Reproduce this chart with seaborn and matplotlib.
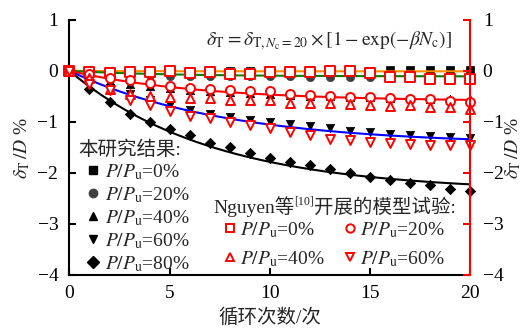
import numpy as np
import pandas as pd
import seaborn as sns
import matplotlib.pyplot as plt
from matplotlib.lines import Line2D

cycles = list(range(21))

# this study (black filled markers), delta_T / D in %
ours_0 = [0, -0.02, -0.03, -0.03, -0.02, -0.02, -0.02, -0.01, -0.01, -0.01, -0.01,
          0, 0, 0, 0, 0, 0.01, 0.01, 0.01, 0.01, 0.01]
ours_20 = [0, -0.05, -0.07, -0.08, -0.09, -0.10, -0.10, -0.10, -0.11, -0.11, -0.11,
           -0.11, -0.12, -0.12, -0.12, -0.12, -0.12, -0.12, -0.13, -0.13, -0.13]
ours_40 = [0, -0.12, -0.19, -0.25, -0.30, -0.34, -0.37, -0.40, -0.42, -0.44, -0.46,
           -0.47, -0.49, -0.50, -0.51, -0.52, -0.53, -0.54, -0.55, -0.55, -0.56]
ours_60 = [0, -0.20, -0.33, -0.45, -0.57, -0.67, -0.76, -0.84, -0.91, -0.96, -1.00,
           -1.05, -1.09, -1.13, -1.17, -1.20, -1.23, -1.26, -1.28, -1.30, -1.32]
ours_80 = [0, -0.35, -0.61, -0.84, -1.00, -1.14, -1.26, -1.41, -1.50, -1.61, -1.70,
           -1.78, -1.85, -1.93, -2.00, -2.08, -2.14, -2.19, -2.24, -2.31, -2.36]

# Nguyen et al. model tests (red hollow markers)
ng_0 = [0, -0.02, -0.05, -0.03, -0.02, -0.01, -0.05, -0.03, -0.07, -0.07, -0.02,
        -0.02, -0.02, 0, -0.01, -0.04, -0.12, -0.13, -0.17, -0.17, -0.17]
ng_20 = [0, -0.06, -0.14, -0.18, -0.23, -0.29, -0.33, -0.35, -0.38, -0.39, -0.40,
         -0.46, -0.48, -0.49, -0.51, -0.52, -0.54, -0.55, -0.55, -0.59, -0.61]
ng_40 = [0, -0.15, -0.35, -0.46, -0.49, -0.51, -0.53, -0.54, -0.57, -0.57, -0.57,
         -0.63, -0.63, -0.64, -0.66, -0.67, -0.69, -0.67, -0.71, -0.71, -0.74]
ng_60 = [0, -0.25, -0.38, -0.57, -0.67, -0.79, -0.88, -0.93, -1.00, -1.06, -1.13,
         -1.20, -1.26, -1.33, -1.36, -1.39, -1.41, -1.44, -1.46, -1.46, -1.46]

load_labels = ["0%", "20%", "40%", "60%", "80%"]

# fitted curves: dT = dT,20 * [1 - exp(-beta * Nc)]
fit_amp = [-0.01, -0.11, -0.60, -1.45, -2.37]
fit_beta = [0.30, 0.20, 0.15, 0.13, 0.14]
fit_colors = ["#ff8c00", "#008000", "#ff0000", "#0000ff", "#000000"]

sns.set_theme(style="ticks")
plt.rcParams['font.family'] = ['Liberation Serif', 'Noto Sans CJK SC']
plt.rcParams['mathtext.fontset'] = 'stix'
plt.rcParams['axes.unicode_minus'] = True
FS = 14

fig = plt.figure(figsize=(5.26, 3.36), dpi=100)
ax = fig.add_axes([0.132, 0.182, 0.762, 0.759])

ours = [ours_0, ours_20, ours_40, ours_60, ours_80]
ours_markers = ["s", "o", "^", "v", "D"]
ours_colors = ["black", "#404040", "black", "black", "black"]
ours_sizes = [32, 36, 36, 36, 28]
for vals, m, c, s in zip(ours, ours_markers, ours_colors, ours_sizes):
    sns.scatterplot(x=cycles, y=vals, marker=m, color=c, s=s, edgecolor=c,
                    linewidth=0.5, ax=ax, zorder=2, clip_on=False, legend=False)

nc = np.linspace(0, 20, 201)
for a, b, c in zip(fit_amp, fit_beta, fit_colors):
    sns.lineplot(x=nc, y=a * (1 - np.exp(-b * nc)), color=c, lw=1.5, ax=ax,
                 zorder=3, legend=False)

ng = [ng_0, ng_20, ng_40, ng_60]
ng_markers = ["s", "o", "^", "v"]
for vals, m in zip(ng, ng_markers):
    sns.scatterplot(x=cycles, y=vals, marker=m, s=42, facecolor="white",
                    edgecolor="red", linewidth=1.4, ax=ax, zorder=4,
                    clip_on=False, legend=False)

ax.set_xlim(0, 20)
ax.set_ylim(-4, 1)
ax.set_xticks([0, 5, 10, 15, 20])
ax.set_yticks([-4, -3, -2, -1, 0, 1])
ax.spines['top'].set_visible(False)
ax.spines['right'].set_visible(False)
for s in ['left', 'bottom']:
    ax.spines[s].set_color('black')
    ax.spines[s].set_linewidth(1.5)
ax.tick_params(direction='in', length=5, width=1.5, labelsize=FS, colors='black')
ax.tick_params(axis='y', pad=8)
ax.tick_params(axis='x', pad=7)
ax.set_xlabel("循环次数/次", fontsize=FS, labelpad=5)
ax.set_ylabel(r"$\delta_{\mathrm{T}}\,/D$ %", fontsize=FS, labelpad=4)

ax2 = ax.twinx()
ax2.set_ylim(-4, 1)
ax2.set_yticks([-4, -3, -2, -1, 0, 1])
for s in ['top', 'left', 'bottom']:
    ax2.spines[s].set_visible(False)
ax2.spines['right'].set_color('red')
ax2.spines['right'].set_linewidth(1.5)
ax2.tick_params(axis='y', direction='in', length=5, width=1.5, colors='red',
                labelcolor='black', labelsize=FS, pad=9)
ax2.set_ylabel(r"$\delta_{\mathrm{T}}\,/D$ %", fontsize=FS, labelpad=0)

ax.text(0.955, 0.92,
        r"$\delta_{\mathrm{T}}=\delta_{\mathrm{T},N_{\mathrm{c}}=20}\times[1-\exp(-\beta N_{\mathrm{c}})]$",
        transform=ax.transAxes, ha='right', va='center', fontsize=FS)

def lab(p):
    return r"$P/P_{\mathrm{u}}$=" + p

# legend for this study
ax.text(0.021, 0.489, "本研究结果:", transform=ax.transAxes, ha='left',
        va='center', fontsize=FS)
h1 = [Line2D([], [], ls='none', marker=m, color=c, markersize=6)
      for m, c in zip(ours_markers, ours_colors)]
leg1 = ax.legend(h1, [lab(p) for p in load_labels],
                 loc='upper left', bbox_to_anchor=(0.039, 0.443), frameon=False,
                 fontsize=FS, borderpad=0, borderaxespad=0, handlelength=0.8,
                 handletextpad=0.2, labelspacing=0.17)
ax.add_artist(leg1)

# legend for Nguyen et al.
t1 = ax.text(0.358, 0.269, "Nguyen等", transform=ax.transAxes, ha='left',
             va='center', fontsize=FS)
t2 = ax.annotate("[10]", xy=(1, 1.0), xycoords=t1, ha='left', va='top',
                 fontsize=FS * 0.62)
ax.annotate("开展的模型试验:", xy=(1, 0), xycoords=(t2, t1), ha='left',
            va='bottom', fontsize=FS)

order = [0, 2, 1, 3]
h2 = [Line2D([], [], ls='none', marker=ng_markers[i], markerfacecolor='white',
             markeredgecolor='red', markeredgewidth=1.4, markersize=6) for i in order]
leg2 = ax.legend(h2, [lab(load_labels[i]) for i in order], ncol=2,
                 loc='upper left', bbox_to_anchor=(0.381, 0.214), frameon=False,
                 fontsize=FS, borderpad=0, borderaxespad=0, handlelength=0.8,
                 handletextpad=0.1, labelspacing=0.46, columnspacing=0.9)

fig.savefig("out.png", dpi=100)
